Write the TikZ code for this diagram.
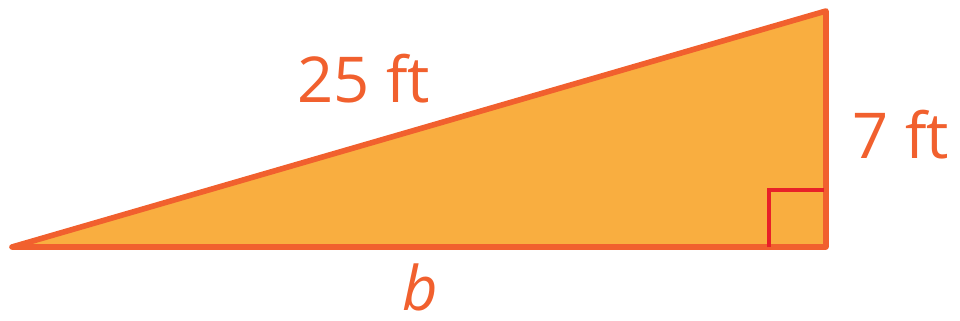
\documentclass[tikz,border=0pt]{standalone}
\usepackage{fontspec}
\setmainfont{Open Sans}
\usetikzlibrary{positioning}
\definecolor{edgeorange}{RGB}{241,96,46}
\definecolor{fillorange}{RGB}{249,174,64}
\definecolor{markred}{RGB}{232,32,40}

\begin{document}
\begin{tikzpicture}[
  x=0.02cm, y=-0.02cm,
  side/.style={draw=edgeorange, line width=3.2pt, line join=round, line cap=round, fill=fillorange},
  rightmark/.style={draw=markred, line width=2pt},
  lbl/.style={text=edgeorange, font=\fontsize{36}{40}\selectfont, inner sep=0pt}
]
\useasboundingbox (0,0) rectangle (960,321);
\coordinate (A) at (12,247);
\coordinate (B) at (826,247);
\coordinate (C) at (826,11);

\draw[side] (A) -- (B) -- (C) -- cycle;
\draw[rightmark] (769,247) -- (769,190) -- (824,190);

\node[lbl] (hyp) at (364,79) {25 ft};
\node[lbl] (leg) at (901,135) {7 ft};
\node[lbl, font=\fontsize{35}{40}\selectfont\itshape] (base) at (420,287) {b};
\end{tikzpicture}
\end{document}
